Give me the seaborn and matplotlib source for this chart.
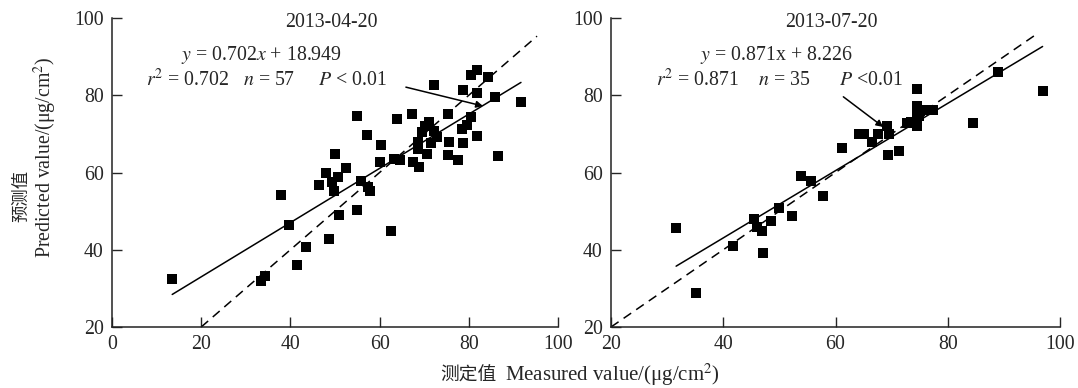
import pandas as pd
import seaborn as sns
import matplotlib.pyplot as plt

# 2013-04-20
apr_measured = [13.5, 33.5, 34.2, 37.8, 39.7, 41.4, 43.5, 46.5, 47.9, 48.6,
                49.4, 49.8, 49.9, 50.7, 51.0, 52.4, 54.9, 55.0, 55.8, 57.1,
                57.5, 57.9, 60.2, 60.4, 62.6, 63.3, 63.9, 64.6, 67.2, 67.5,
                68.6, 68.9, 68.7, 69.5, 70.2, 70.6, 71.1, 71.5, 72.1, 72.2,
                72.8, 75.4, 75.6, 75.4, 77.6, 78.5, 78.7, 78.7, 79.6, 80.5,
                80.6, 81.8, 81.8, 81.8, 84.3, 85.9, 86.5, 91.7]
apr_predicted = [32.3, 31.8, 33.2, 54.3, 46.3, 36.1, 40.7, 56.8, 60.0, 42.9,
                 57.6, 55.1, 64.8, 58.9, 49.1, 61.1, 50.3, 74.5, 57.8, 69.6,
                 56.2, 55.3, 62.6, 67.1, 44.8, 63.4, 73.9, 63.3, 75.2, 62.7,
                 68.0, 61.5, 66.1, 70.5, 72.0, 64.8, 73.1, 67.7, 70.8, 82.7,
                 69.2, 75.2, 67.9, 64.6, 63.3, 71.3, 81.4, 67.7, 72.3, 74.4,
                 85.3, 69.5, 80.6, 86.6, 84.8, 79.6, 64.3, 78.3]

# 2013-07-20
jul_measured = [31.6, 35.2, 41.8, 45.5, 46.0, 46.9, 47.1, 48.5, 49.9, 52.3,
                53.8, 55.6, 57.8, 61.1, 64.2, 65.1, 66.5, 67.6, 69.2, 69.6,
                69.4, 71.3, 72.7, 73.5, 74.5, 74.6, 74.6, 74.6, 74.8, 75.0,
                75.8, 77.4, 84.5, 88.9, 96.9]
jul_predicted = [45.6, 28.8, 41.0, 48.0, 45.9, 44.9, 39.2, 47.5, 50.8, 48.8,
                 59.1, 57.9, 53.9, 66.4, 70.0, 70.0, 68.0, 70.0, 72.1, 70.0,
                 64.6, 65.6, 72.8, 73.0, 81.7, 77.3, 75.4, 72.1, 74.5, 76.0,
                 76.2, 76.2, 72.8, 86.1, 81.1]

panels = [
    dict(date='2013-04-20', x=apr_measured, y=apr_predicted, slope=0.702, icpt=18.949,
         eq='$y$ = 0.702$x$ + 18.949',
         stats='$r^2$ = 0.702   $n$ = 57     $P$ < 0.01',
         xlim=(0, 100), one_to_one=(20, 95.3),
         eq_pos=(33.5, 90.5), st_pos=(34.6, 84.0),
         arrow_from=(65.9, 82.1), arrow_to=(83.2, 77.2)),
    dict(date='2013-07-20', x=jul_measured, y=jul_predicted, slope=0.871, icpt=8.226,
         eq='$y$ = 0.871x + 8.226',
         stats='$r^2$ = 0.871    $n$ = 35      $P$ <0.01',
         xlim=(20, 100), one_to_one=(20, 96.0),
         eq_pos=(49.4, 90.5), st_pos=(50.1, 84.0),
         arrow_from=(61.4, 79.6), arrow_to=(68.5, 71.8)),
]

sns.set_style('ticks')
plt.rcParams['font.family'] = ['Liberation Serif', 'Noto Sans CJK SC']
plt.rcParams['mathtext.fontset'] = 'stix'
fs = 14.3
cjk = ['Noto Sans CJK SC']

fig = plt.figure(figsize=(10.78, 3.88), dpi=100)
axes = [fig.add_axes([0.1039, 0.1572, 0.4137, 0.7964]),
        fig.add_axes([0.5668, 0.1572, 0.4165, 0.7964])]

for ax, p in zip(axes, panels):
    df = pd.DataFrame({'measured': p['x'], 'predicted': p['y']})
    sns.scatterplot(data=df, x='measured', y='predicted', ax=ax, marker='s',
                    s=62, color='black', edgecolor='black', linewidth=0, zorder=3)
    # fitted line over the measured range
    xmin, xmax = df['measured'].min(), df['measured'].max()
    ax.plot([xmin, xmax], [p['slope'] * xmin + p['icpt'], p['slope'] * xmax + p['icpt']],
            color='black', lw=1.1, zorder=2)
    # 1:1 line
    a, b = p['one_to_one']
    ax.plot([a, b], [a, b], color='black', lw=1.1, ls=(0, (6, 4)), zorder=2)

    ax.set_xlim(*p['xlim'])
    ax.set_ylim(20, 100)
    ax.set_xticks(range(p['xlim'][0], 101, 20))
    ax.set_yticks(range(20, 101, 20))
    ax.tick_params(direction='in', length=7, width=1, labelsize=fs, pad=6)
    ax.set_xlabel('')
    ax.set_ylabel('')
    for side in ['top', 'right']:
        ax.spines[side].set_visible(False)
    for side in ['left', 'bottom']:
        ax.spines[side].set_linewidth(1.1)
        ax.spines[side].set_color('#222222')

    mid = (p['xlim'][0] + 100) / 2 - 0.8
    ax.text(mid, 98.8, p['date'], ha='center', va='center', fontsize=fs)
    ax.text(p['eq_pos'][0], p['eq_pos'][1], p['eq'], ha='center', va='center', fontsize=fs)
    ax.text(p['st_pos'][0], p['st_pos'][1], p['stats'], ha='center', va='center', fontsize=fs)
    ax.annotate('', xy=p['arrow_to'], xytext=p['arrow_from'],
                arrowprops=dict(arrowstyle='-|>', color='black', lw=1.1,
                                mutation_scale=10, shrinkA=0, shrinkB=0))

fig.text(21 / 1078, 1 - 196 / 388, '预测值', rotation=90, family=cjk,
         ha='center', va='center', fontsize=12.5)
fig.text(45 / 1078, 1 - 157 / 388, 'Predicted value/(μg/cm$^2$)', rotation=90,
         ha='center', va='center', fontsize=fs)
fig.text(497 / 1078, 1 - 375 / 388, '测定值', family=cjk, ha='right',
         va='center', fontsize=13.5)
fig.text(505 / 1078, 1 - 375 / 388, 'Measured value/(μg/cm$^2$)', ha='left',
         va='center', fontsize=15)

fig.savefig('out.png', dpi=100)
